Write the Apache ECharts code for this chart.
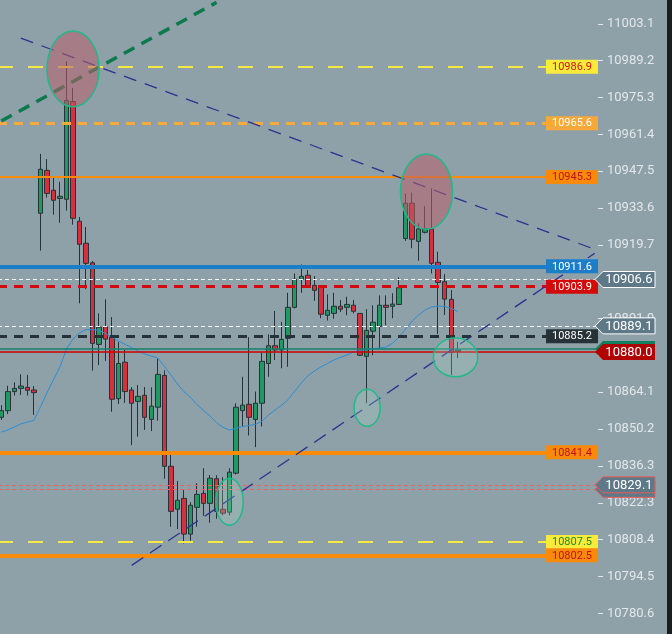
<!DOCTYPE html>
<html>
<head>
<meta charset="utf-8">
<script src="https://cdn.jsdelivr.net/npm/echarts@6/dist/echarts.min.js"></script>
<style>
  html, body { margin: 0; padding: 0; background: #1b1e21; }
  #main { width: 667px; height: 634px; }
</style>
</head>
<body>
<div id="main"></div>
<script>
// 71 bars drawn, the rest of the slots are empty space on the right
const barCount = 92;
const bars = [];
for (let i = 0; i < barCount; i++) bars.push(String(i));

const candleOpen = [
  10854.6, 10857.1, 10864.3, 10865.5, 10865.9, 10864.9, 10931.6, 10947.8, 10940.3, 10937.2,
  10936.9, 10973.8, 10928.6, 10920.3, 10912.9, 10882.1, 10888.8, 10884.9, 10861.6, 10875.4,
  10864.9, 10860.6, 10862.9, 10853.8, 10858.4, 10870.4, 10836.1, 10819.9, 10824.0, 10810.5,
  10820.6, 10825.9, 10822.1, 10831.4, 10819.9, 10818.8, 10833.5, 10857.1, 10859.5, 10853.8,
  10859.9, 10874.9, 10881.6, 10880.0, 10884.4, 10896.1, 10906.7, 10908.2, 10904.4, 10904.0,
  10893.1, 10893.8, 10896.5, 10896.1, 10896.9, 10893.8, 10877.6, 10887.1, 10888.9, 10896.9,
  10896.5, 10897.2, 10922.1, 10935.4, 10921.0, 10924.4, 10925.7, 10913.1, 10905.8, 10899.1,
  10879.4
];
const candleClose = [
  10857.1, 10864.3, 10865.5, 10866.4, 10864.8, 10863.9, 10948.2, 10939.1, 10936.5, 10938.0,
  10974.2, 10929.7, 10919.9, 10912.7, 10882.5, 10888.6, 10884.1, 10861.4, 10874.9, 10864.3,
  10859.9, 10862.5, 10854.6, 10858.8, 10870.8, 10836.1, 10819.1, 10823.3, 10810.5, 10821.4,
  10825.5, 10822.1, 10831.6, 10819.1, 10818.4, 10833.9, 10858.4, 10859.2, 10854.6, 10859.9,
  10875.7, 10881.6, 10880.0, 10884.0, 10896.1, 10906.7, 10907.8, 10904.0, 10902.5, 10893.5,
  10895.0, 10896.5, 10895.4, 10897.2, 10894.6, 10878.0, 10887.4, 10890.5, 10896.9, 10896.1,
  10897.3, 10903.5, 10935.4, 10921.8, 10925.7, 10925.8, 10912.7, 10905.5, 10899.2, 10879.1,
  10880.0
];
const candleLow = [
  10853.6, 10855.8, 10862.8, 10863.0, 10862.8, 10855.5, 10917.5, 10937.5, 10931.1, 10928.0,
  10932.6, 10927.3, 10897.6, 10902.9, 10872.2, 10874.3, 10875.9, 10856.7, 10859.6, 10860.0,
  10844.1, 10847.3, 10849.8, 10849.4, 10853.3, 10831.4, 10813.3, 10812.4, 10807.0, 10808.0,
  10813.3, 10817.4, 10814.8, 10816.3, 10817.6, 10817.6, 10833.0, 10851.1, 10847.7, 10843.3,
  10851.1, 10869.9, 10876.2, 10873.1, 10873.7, 10895.7, 10901.6, 10903.9, 10898.6, 10892.0,
  10891.1, 10891.8, 10894.3, 10893.1, 10893.8, 10877.7, 10859.9, 10878.0, 10880.4, 10889.3,
  10892.0, 10897.0, 10921.2, 10918.4, 10913.7, 10924.0, 10908.9, 10886.0, 10893.2, 10870.6,
  10876.9
];
const candleHigh = [
  10859.2, 10866.5, 10867.8, 10870.8, 10870.6, 10866.4, 10954.0, 10952.1, 10945.0, 10943.5,
  10989.0, 10978.9, 10930.2, 10926.4, 10913.6, 10893.8, 10899.1, 10892.4, 10883.0, 10880.0,
  10866.0, 10866.8, 10866.0, 10865.9, 10876.7, 10872.3, 10840.4, 10830.6, 10827.2, 10822.5,
  10829.7, 10835.4, 10832.8, 10832.7, 10832.0, 10835.4, 10859.9, 10869.9, 10884.8, 10864.3,
  10879.1, 10885.9, 10894.7, 10890.6, 10901.6, 10908.9, 10912.3, 10910.2, 10907.9, 10904.0,
  10901.0, 10901.6, 10898.9, 10900.1, 10898.9, 10893.8, 10895.4, 10896.9, 10900.6, 10900.6,
  10901.4, 10907.4, 10939.1, 10939.4, 10927.8, 10934.3, 10941.0, 10917.1, 10908.6, 10902.6,
  10883.1
];

// moving average
const maValues = [
  10849.0, 10849.8, 10850.9, 10852.1, 10852.8, 10853.4, 10858.5, 10863.8, 10868.7, 10873.6,
  10880.4, 10884.2, 10886.4, 10887.7, 10887.7, 10887.4, 10886.2, 10884.7, 10883.4, 10882.1,
  10880.9, 10879.6, 10878.5, 10877.7, 10877.0, 10873.9, 10870.6, 10867.2, 10864.3, 10862.1,
  10859.4, 10857.2, 10855.1, 10852.6, 10850.8, 10849.8, 10850.4, 10851.1, 10851.5, 10851.9,
  10853.2, 10855.5, 10857.4, 10859.2, 10861.3, 10864.5, 10867.5, 10870.2, 10872.1, 10873.6,
  10874.9, 10876.2, 10877.2, 10878.1, 10879.2, 10879.8, 10880.2, 10880.4, 10880.8, 10881.1,
  10882.6, 10884.9, 10887.9, 10890.9, 10893.2, 10895.1, 10896.2, 10896.6, 10896.4, 10895.7,
  10894.5
];

const yTicks = [11003.1, 10989.2, 10975.3, 10961.4, 10947.5, 10933.6, 10919.7, 10905.8, 10891.9,
  10878.0, 10864.1, 10850.2, 10836.3, 10822.3, 10808.4, 10794.5, 10780.6];

// horizontal levels with a label box at the right edge of the plot
const levelValues = [10986.9, 10965.6, 10945.3, 10911.6, 10903.9, 10885.2, 10841.4, 10807.5, 10802.5];
const levelStyles = [
  { color: '#f6e93f', width: 2, type: [15, 15], bg: '#f8eb3c', text: '#d4141c' },
  { color: '#f8aa3c', width: 3, type: [9, 7], bg: '#f8a838', text: '#ffffff' },
  { color: '#f88c08', width: 2, type: 'solid', bg: '#f78a0a', text: '#c8101a' },
  { color: '#1a7fc8', width: 4, type: 'solid', bg: '#1a7fc8', text: '#ffffff' },
  { color: '#d20a0a', width: 3, type: [9, 7], bg: '#d20a0a', text: '#ffffff' },
  { color: '#263238', width: 3, type: [9, 7], bg: '#263238', text: '#ffffff' },
  { color: '#f88c08', width: 4, type: 'solid', bg: '#f78a0a', text: '#c8101a' },
  { color: '#f6e93f', width: 2, type: [15, 15], bg: '#f8eb3c', text: '#1d8a2a' },
  { color: '#f88c08', width: 4, type: 'solid', bg: '#f78a0a', text: '#c8101a' }
];

// thin price lines without label boxes
const guideValues = [10906.6, 10889.1, 10880.4, 10879.2, 10829.1, 10827.4];
const guideStyles = [
  { color: '#f4f6f7', width: 1, type: [4, 3] },
  { color: '#f4f6f7', width: 1, type: [4, 3] },
  { color: '#12806a', width: 1.5, type: 'solid' },
  { color: '#cc0000', width: 1.5, type: 'solid' },
  { color: '#f06262', width: 1, type: [4, 3] },
  { color: '#f06262', width: 1, type: [4, 3] }
];

// price tags on the axis
const tagValues = [10827.4, 10829.1, 10880.4, 10879.2, 10889.1, 10906.6];
const tagTexts = ['', '10829.1', '', '10880.0', '10889.1', '10906.6'];
const tagStyles = [
  { fill: '#5d7886', stroke: '#ef5b5b' },
  { fill: '#5d7886', stroke: '#ef5b5b' },
  { fill: '#10805f', stroke: null },
  { fill: '#b00000', stroke: null },
  { fill: '#5d7886', stroke: '#ffffff' },
  { fill: '#5d7886', stroke: '#ffffff' }
];

// trend lines: [bar, price] -> [bar, price]
const trendLines = [
  [[0, 10966.4], [33, 11011.2]],
  [[3, 10997.7], [91, 10918.0]],
  [[20, 10798.7], [91, 10916.5]]
];
const trendStyles = [
  { color: '#0b7a4c', width: 3.5, type: [12, 8] },
  { color: '#2b3190', width: 1.3, type: [13, 9] },
  { color: '#2b3190', width: 1.3, type: [14, 8] }
];

// ellipses: centre bar, centre price, half width (bars), half height (price)
const ellipses = [
  [11.0, 10986.1, 4.0, 14.3],
  [65.2, 10939.8, 4.0, 14.2],
  [69.65, 10877.2, 3.4, 7.3],
  [56.1, 10858.2, 2.0, 7.0],
  [35.0, 10822.7, 2.1, 8.9]
];
const ellipseFills = ['rgba(185,95,105,0.55)', 'rgba(185,95,105,0.55)',
  'rgba(170,220,200,0.25)', 'rgba(170,220,200,0.25)', 'rgba(170,220,200,0.25)'];

const candleData = candleOpen.map((o, i) => [o, candleClose[i], candleLow[i], candleHigh[i]]);

const lineMarks = [];
levelValues.forEach((v, i) => {
  const s = levelStyles[i];
  lineMarks.push({ yAxis: v, lineStyle: { color: s.color, width: s.width, type: s.type } });
});
guideValues.forEach((v, i) => {
  lineMarks.push({ yAxis: v, lineStyle: guideStyles[i] });
});
trendLines.forEach((t, i) => {
  lineMarks.push([{ coord: t[0], lineStyle: trendStyles[i] }, { coord: t[1] }]);
});

var myChart = echarts.init(document.getElementById('main'));

myChart.setOption({
  animation: false,
  backgroundColor: '#8fa1a8',
  grid: { left: -2, right: 69, top: 0, bottom: 0, outerBoundsMode: 'none' },
  xAxis: { type: 'category', data: bars, show: false },
  yAxis: {
    type: 'value',
    position: 'right',
    min: 10772.8,
    max: 11012.1,
    axisLine: { show: false },
    axisTick: { show: true, length: 5, customValues: yTicks, lineStyle: { color: '#e2e7ea' } },
    axisLabel: {
      color: '#e2e7ea', fontSize: 13, fontFamily: 'Roboto', margin: 9,
      customValues: yTicks,
      formatter: function (v) { return v.toFixed(1); }
    },
    splitLine: { show: false }
  },
  series: [
    {
      type: 'candlestick',
      data: candleData,
      barWidth: 5,
      z: 3,
      itemStyle: {
        color: '#1f9b61', color0: '#d7303d',
        borderColor: '#263238', borderColor0: '#263238', borderWidth: 1
      }
    },
    {
      type: 'line',
      data: maValues,
      showSymbol: false,
      z: 4,
      lineStyle: { color: '#2a8ed6', width: 1 },
      markLine: {
        silent: true,
        symbol: ['none', 'none'],
        label: { show: false },
        data: lineMarks
      }
    },
    {
      // highlight ellipses
      type: 'custom',
      z: 10,
      silent: true,
      clip: false,
      data: ellipses.map(e => [Math.floor(e[0]), e[1]]),
      renderItem: function (params, api) {
        const e = ellipses[params.dataIndex];
        const base = Math.floor(e[0]);
        const bw = api.size([1, 0])[0];
        const c = api.coord([base, e[1]]);
        const top = api.coord([base, e[1] + e[3]]);
        return {
          type: 'ellipse',
          shape: { cx: c[0] + (e[0] - base) * bw, cy: c[1], rx: e[2] * bw, ry: c[1] - top[1] },
          style: { fill: ellipseFills[params.dataIndex], stroke: '#21b98a', lineWidth: 1.5 }
        };
      }
    },
    {
      // label boxes of the levels
      type: 'custom',
      z: 11,
      silent: true,
      clip: false,
      data: levelValues.map(v => [barCount - 1, v]),
      renderItem: function (params, api) {
        const s = levelStyles[params.dataIndex];
        const xr = params.coordSys.x + params.coordSys.width;
        const cy = api.coord([barCount - 1, api.value(1)])[1];
        return {
          type: 'group',
          children: [
            { type: 'rect', shape: { x: xr - 52, y: cy - 7, width: 52, height: 14 }, style: { fill: s.bg } },
            {
              type: 'text', x: xr - 26, y: cy + 0.5,
              style: {
                text: api.value(1).toFixed(1), fill: s.text, font: '11px Roboto',
                align: 'center', verticalAlign: 'middle'
              }
            }
          ]
        };
      }
    },
    {
      // price tags on the axis
      type: 'custom',
      z: 12,
      silent: true,
      clip: false,
      data: tagValues.map(v => [barCount - 1, v]),
      renderItem: function (params, api) {
        const s = tagStyles[params.dataIndex];
        const xr = params.coordSys.x + params.coordSys.width;
        const cy = api.coord([barCount - 1, api.value(1)])[1];
        const h = 8;
        const children = [{
          type: 'polygon',
          shape: { points: [[xr - 3, cy], [xr + 5, cy - h], [xr + 57, cy - h], [xr + 57, cy + h], [xr + 5, cy + h]] },
          style: { fill: s.fill, stroke: s.stroke, lineWidth: 1 }
        }];
        if (tagTexts[params.dataIndex]) {
          children.push({
            type: 'text', x: xr + 31, y: cy + 0.5,
            style: {
              text: tagTexts[params.dataIndex], fill: '#ffffff', font: '13px Roboto',
              align: 'center', verticalAlign: 'middle'
            }
          });
        }
        return { type: 'group', children: children };
      }
    }
  ]
});
</script>
</body>
</html>
